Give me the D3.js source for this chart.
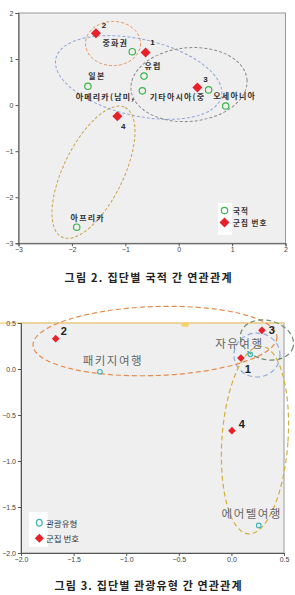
<!DOCTYPE html>
<html><head><meta charset="utf-8">
<script src="https://cdn.jsdelivr.net/npm/d3@7"></script>
<style>
html,body{margin:0;padding:0;background:#fff;}
svg{display:block;}
</style></head>
<body>
<svg id="c" width="295" height="595"></svg>
<script>
// ---------- Figure 2 data (국적) ----------
const natNames = ["중화권","유럽","일본","아메리카(남미,","기타아시아(중","오세아니아","아프리카"];
const natX = [-0.87,-0.65,-1.70,-0.68,0.56,0.88,-1.91];
const natY = [1.16,0.63,0.41,0.31,0.33,-0.02,-2.65];
const clusterIds = ["1","2","3","4"];
const cl2X = [-0.62,-1.55,0.35,-1.15];
const cl2Y = [1.14,1.56,0.38,-0.24];
const fig2Ticks = [-3,-2,-1,0,1,2];
// confidence ellipses (data units)
const ell2Cx = [-0.75,-1.23,0.193,-1.596];
const ell2Cy = [0.60,1.337,0.446,-1.457];
const ell2Rx = [1.59,0.515,1.09,1.35];
const ell2Ry = [0.83,0.48,0.80,0.65];
const ell2Ang = [13,0,-5,-64];

// ---------- Figure 3 data (관광유형) ----------
const tourNames = ["패키지여행","자유여행","에어텔여행"];
const tourX = [-1.25,0.18,0.26];
const tourY = [-0.03,0.16,-1.70];
const cl3X = [0.09,-1.67,0.29,0.005];
const cl3Y = [0.12,0.33,0.42,-0.67];
const fig3XTicks = [-2.0,-1.5,-1.0,-0.5,0.0,0.5];
const fig3YTicks = [0.5,0.0,-0.5,-1.0,-1.5,-2.0];
const ell3Cx = [0.243,-0.726,0.338,0.224];
const ell3Cy = [0.152,0.304,0.315,-0.772];
const ell3Rx = [0.219,1.16,0.257,0.314];
const ell3Ry = [0.239,0.375,0.212,1.022];
const ell3Ang = [0,-2,15,4];

// ---------- layout / style ----------
const KR = "'Noto Sans CJK KR','Noto Sans',sans-serif";
const NUM = "'Liberation Sans','DejaVu Sans',sans-serif";
const svg = d3.select("#c");

const L2 = {x0:18.5,x1:285.5,y0:13,y1:243.3};
const L3 = {x0:21,x1:284,y0:323,y1:553};
const natLabelOff = [[-17,-9.5],[9,-11],[9,-11],[-37,6],[-31,7],[9,-11],[11,-10]];
const cl2LabelOff = [[7,-10],[8,-8],[8,-8],[6,10]];
const tourLabelOff = [[13,-12],[-11,-11],[-7,-12]];
const cl3LabelOff = [[7,11],[8,-8],[10,0],[10,-7]];
const ell2Col = ["#8ea6d6","#e8935a","#8a8a8a","#c9a24a"];
const ell3Col = ["#8eaad8","#e8894c","#6f8a6f","#d2ae3e"];

function diamond(r){return `M0,${-r}L${r},0L0,${r}L${-r},0Z`;}

// ================= Figure 2 =================
const x2 = d3.scaleLinear().domain([-3,2]).range([L2.x0,L2.x1]);
const y2 = d3.scaleLinear().domain([-3,2]).range([L2.y1,L2.y0]);
const g2 = svg.append("g");
g2.append("rect").attr("x",L2.x0).attr("y",L2.y0).attr("width",L2.x1-L2.x0).attr("height",L2.y1-L2.y0)
  .attr("fill","#efefef").attr("stroke","#9a9a9a").attr("stroke-width",1);
const ax2 = g2.append("g").attr("transform",`translate(0,${L2.y1})`)
  .call(d3.axisBottom(x2).tickValues(fig2Ticks).tickSize(3).tickPadding(1).tickFormat(d3.format("d")));
const ay2 = g2.append("g").attr("transform",`translate(${L2.x0},0)`)
  .call(d3.axisLeft(y2).tickValues(fig2Ticks).tickSize(3).tickPadding(2).tickFormat(d3.format("d")));
[ax2,ay2].forEach(a=>{a.select(".domain").attr("stroke","#555");a.selectAll(".tick line").attr("stroke","#555");
  a.selectAll("text").attr("font-family",NUM).attr("font-size",7).attr("fill","#444");});

clusterIds.forEach((id,i)=>{
  const cx=x2(ell2Cx[i]), cy=y2(ell2Cy[i]);
  g2.append("ellipse").attr("cx",cx).attr("cy",cy)
    .attr("rx",x2(ell2Cx[i]+ell2Rx[i])-cx).attr("ry",cy-y2(ell2Cy[i]+ell2Ry[i]))
    .attr("transform",`rotate(${ell2Ang[i]},${cx},${cy})`)
    .attr("fill","none").attr("stroke",ell2Col[i]).attr("stroke-width",1).attr("stroke-dasharray","3,2");
});
natNames.forEach((n,i)=>{
  const px=x2(natX[i]), py=y2(natY[i]);
  g2.append("circle").attr("cx",px).attr("cy",py).attr("r",3.2)
    .attr("fill","none").attr("stroke","#3cb44b").attr("stroke-width",1.2);
  g2.append("text").attr("x",px+natLabelOff[i][0]).attr("y",py+natLabelOff[i][1])
    .attr("text-anchor","middle").attr("dominant-baseline","central")
    .attr("font-family",KR).attr("font-size",8).attr("font-weight","bold").attr("letter-spacing",1.2)
    .attr("fill","#333").text(n);
});
clusterIds.forEach((id,i)=>{
  const px=x2(cl2X[i]), py=y2(cl2Y[i]);
  g2.append("path").attr("d",diamond(5)).attr("transform",`translate(${px},${py})`).attr("fill","#e8202a");
  g2.append("text").attr("x",px+cl2LabelOff[i][0]).attr("y",py+cl2LabelOff[i][1])
    .attr("text-anchor","middle").attr("dominant-baseline","central")
    .attr("font-family",NUM).attr("font-size",8).attr("font-weight","bold").attr("fill","#222").text(id);
});
const lg2 = g2.append("g");
lg2.append("rect").attr("x",218).attr("y",203).attr("width",14).attr("height",32).attr("fill","#fff");
lg2.append("circle").attr("cx",224.5).attr("cy",210.5).attr("r",3.2).attr("fill","none").attr("stroke","#3cb44b").attr("stroke-width",1.2);
lg2.append("path").attr("d",diamond(5)).attr("transform","translate(224.5,222.5)").attr("fill","#e8202a");
lg2.append("text").attr("x",233).attr("y",210.5).attr("dominant-baseline","central").attr("font-family",KR)
  .attr("font-size",7.5).attr("font-weight","bold").attr("fill","#333").attr("letter-spacing",1).text("국적");
lg2.append("text").attr("x",233).attr("y",222.5).attr("dominant-baseline","central").attr("font-family",KR)
  .attr("font-size",7.5).attr("font-weight","bold").attr("fill","#333").attr("letter-spacing",1).text("군집 번호");

svg.append("text").attr("x",148).attr("y",277).attr("text-anchor","middle").attr("dominant-baseline","central")
  .attr("font-family",KR).attr("font-size",11).attr("font-weight","bold").attr("fill","#222")
  .attr("textLength",167).attr("lengthAdjust","spacing")
  .text("그림 2. 집단별 국적 간 연관관계");

// ================= Figure 3 =================
const x3 = d3.scaleLinear().domain([-2,0.5]).range([L3.x0,L3.x1]);
const y3 = d3.scaleLinear().domain([-2,0.5]).range([L3.y1,L3.y0]);
const g3 = svg.append("g");
g3.append("rect").attr("x",L3.x0).attr("y",L3.y0).attr("width",L3.x1-L3.x0).attr("height",L3.y1-L3.y0)
  .attr("fill","#efefef").attr("stroke","#9a9a9a").attr("stroke-width",1);
g3.append("line").attr("x1",0).attr("x2",L3.x1).attr("y1",L3.y0).attr("y2",L3.y0)
  .attr("stroke","#f6d98e").attr("stroke-width",1.5);
g3.append("ellipse").attr("cx",x3(-0.44)).attr("cy",L3.y0+1.5).attr("rx",4).attr("ry",2.5).attr("fill","#f2d373");
const ax3 = g3.append("g").attr("transform",`translate(0,${L3.y1})`)
  .call(d3.axisBottom(x3).tickValues(fig3XTicks).tickSize(3).tickPadding(1).tickFormat(d3.format(".1f")));
const ay3 = g3.append("g").attr("transform",`translate(${L3.x0},0)`)
  .call(d3.axisLeft(y3).tickValues(fig3YTicks).tickSize(3).tickPadding(2).tickFormat(d3.format(".1f")));
[ax3,ay3].forEach(a=>{a.select(".domain").attr("stroke","#555");a.selectAll(".tick line").attr("stroke","#555");
  a.selectAll("text").attr("font-family",NUM).attr("font-size",7).attr("fill","#444");});

clusterIds.forEach((id,i)=>{
  const cx=x3(ell3Cx[i]), cy=y3(ell3Cy[i]);
  g3.append("ellipse").attr("cx",cx).attr("cy",cy)
    .attr("rx",x3(ell3Cx[i]+ell3Rx[i])-cx).attr("ry",cy-y3(ell3Cy[i]+ell3Ry[i]))
    .attr("transform",`rotate(${ell3Ang[i]},${cx},${cy})`)
    .attr("fill","none").attr("stroke",ell3Col[i]).attr("stroke-width",1.2).attr("stroke-dasharray","5,3");
});
tourNames.forEach((n,i)=>{
  const px=x3(tourX[i]), py=y3(tourY[i]);
  g3.append("circle").attr("cx",px).attr("cy",py).attr("r",2.3)
    .attr("fill","none").attr("stroke","#3fb5b5").attr("stroke-width",1.1);
  g3.append("text").attr("x",px+tourLabelOff[i][0]).attr("y",py+tourLabelOff[i][1])
    .attr("text-anchor","middle").attr("dominant-baseline","central")
    .attr("font-family",KR).attr("font-size",11.5).attr("fill","#666")
    .attr("letter-spacing",1.5).text(n);
});
clusterIds.forEach((id,i)=>{
  const px=x3(cl3X[i]), py=y3(cl3Y[i]);
  g3.append("path").attr("d",diamond(3.8)).attr("transform",`translate(${px},${py})`).attr("fill","#e8202a");
  g3.append("text").attr("x",px+cl3LabelOff[i][0]).attr("y",py+cl3LabelOff[i][1])
    .attr("text-anchor","middle").attr("dominant-baseline","central")
    .attr("font-family",NUM).attr("font-size",11).attr("font-weight","bold").attr("fill","#222").text(id);
});
const lg3 = g3.append("g");
lg3.append("rect").attr("x",29).attr("y",512).attr("width",19).attr("height",35).attr("fill","#fff");
lg3.append("ellipse").attr("cx",39.3).attr("cy",522.7).attr("rx",2.8).attr("ry",3.4).attr("fill","none").attr("stroke","#3fb5b5").attr("stroke-width",1.3);
lg3.append("path").attr("d",diamond(4.5)).attr("transform","translate(39.3,538.3)").attr("fill","#e8202a");
lg3.append("text").attr("x",46).attr("y",522.7).attr("dominant-baseline","central").attr("font-family",KR)
  .attr("font-size",8.5).attr("fill","#333").text("관광유형");
lg3.append("text").attr("x",46).attr("y",538.3).attr("dominant-baseline","central").attr("font-family",KR)
  .attr("font-size",8.5).attr("fill","#333").text("군집 번호");

svg.append("text").attr("x",148).attr("y",585).attr("text-anchor","middle").attr("dominant-baseline","central")
  .attr("font-family",KR).attr("font-size",11).attr("font-weight","bold").attr("fill","#222")
  .attr("textLength",187).attr("lengthAdjust","spacing")
  .text("그림 3. 집단별 관광유형 간 연관관계");
</script>
</body></html>
